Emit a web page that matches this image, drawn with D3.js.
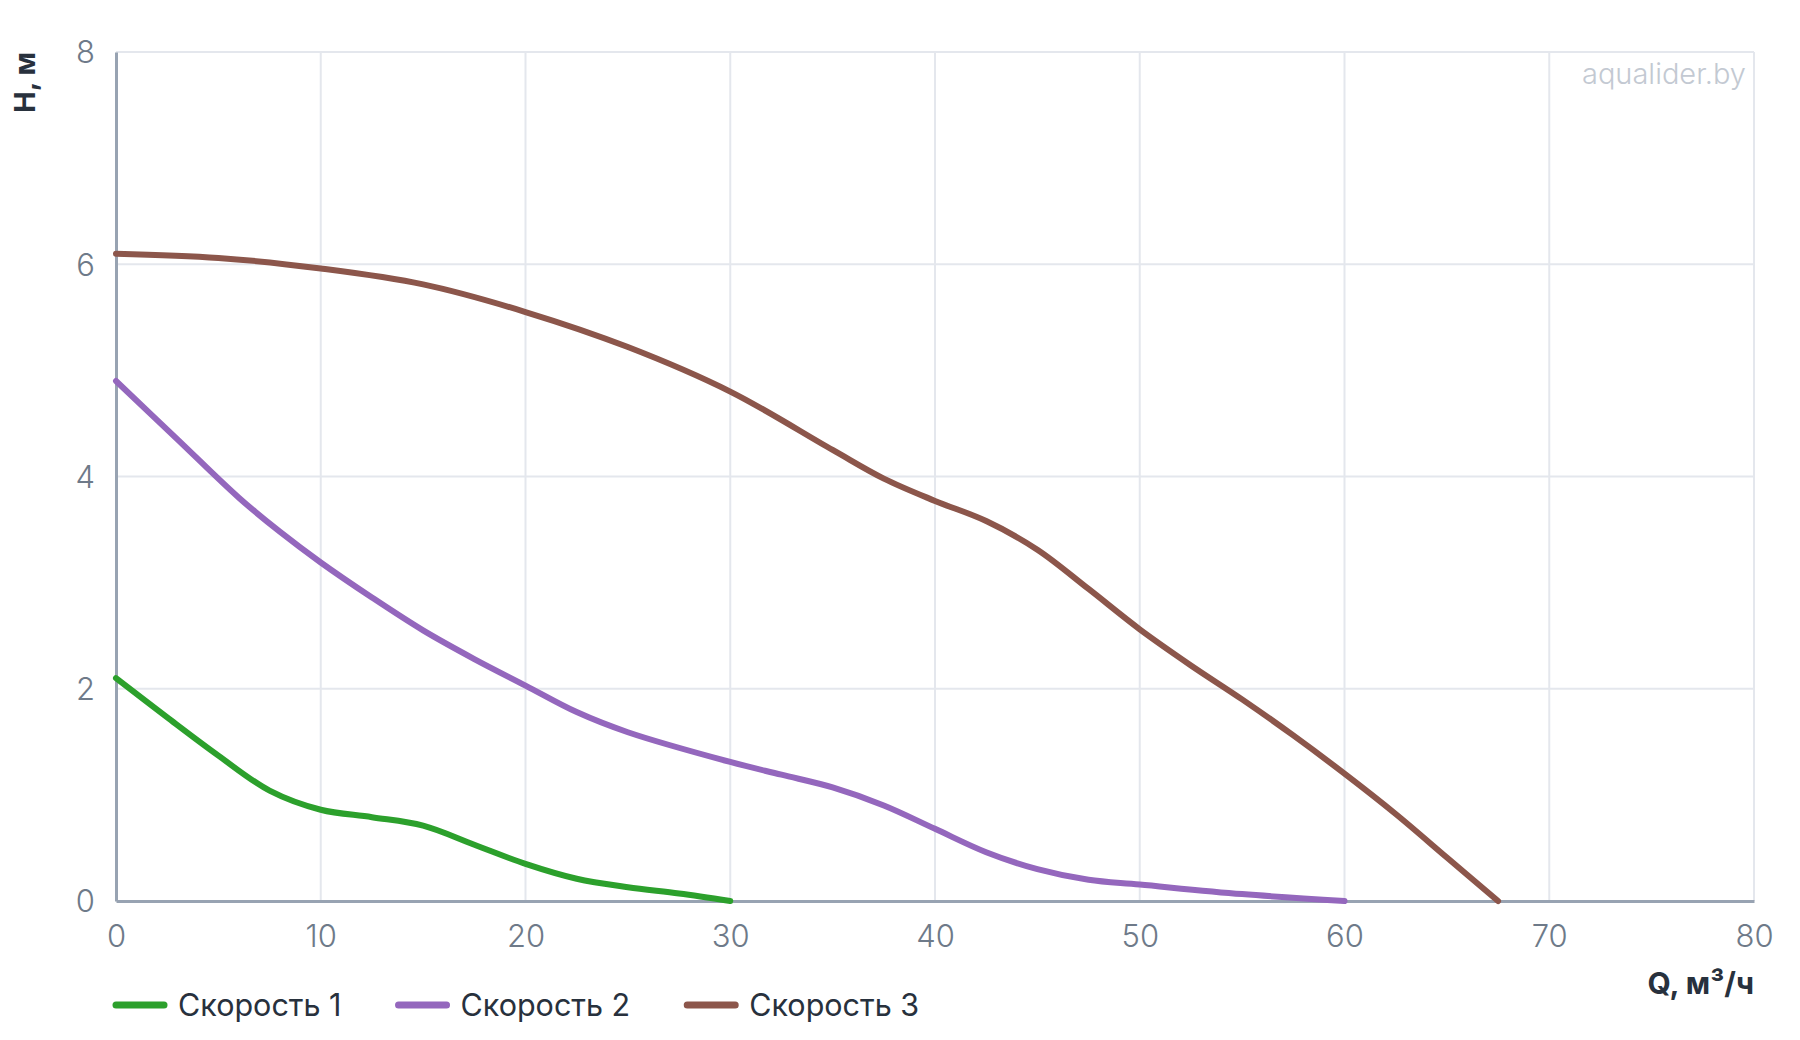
<!DOCTYPE html>
<html>
<head>
<meta charset="utf-8">
<script src="https://cdn.jsdelivr.net/npm/d3@7"></script>
<style>
  body { margin: 0; background: #fff; }
  svg { display: block; font-family: Inter, Roboto, "Noto Sans", sans-serif; }
</style>
</head>
<body>
<svg id="chart" width="1800" height="1040"></svg>
<script>
// flow Q, m3/h and head H, m
var q1 = [0, 2.5, 5, 7.5, 10, 12.5, 15, 17.5, 20, 22.5, 25, 27.5, 30]
var h1 = [2.1, 1.73, 1.37, 1.04, 0.86, 0.79, 0.71, 0.53, 0.35, 0.21, 0.13, 0.07, 0]

var q2 = [0, 3, 6, 8, 10, 12.5, 15, 17.5, 20, 22.5, 25, 30, 32.5, 35, 37.5, 40, 42.5, 45, 47.5, 50, 55, 60]
var h2 = [4.9, 4.35, 3.8, 3.48, 3.19, 2.86, 2.55, 2.28, 2.03, 1.78, 1.59, 1.31, 1.19, 1.07, 0.9, 0.68, 0.46, 0.3, 0.2, 0.155, 0.065, 0]

var q3 = [0, 5, 10, 15, 20, 25, 30, 35, 37.5, 40, 42.5, 45, 47.5, 50, 52.5, 55, 57.5, 60, 62.5, 65, 67.5]
var h3 = [6.1, 6.06, 5.96, 5.81, 5.55, 5.22, 4.8, 4.25, 3.98, 3.77, 3.58, 3.31, 2.94, 2.56, 2.22, 1.9, 1.56, 1.2, 0.82, 0.41, 0]

var seriesNames = ["Скорость 1", "Скорость 2", "Скорость 3"]
var seriesColors = ["#2ca02c", "#9467bd", "#8c564b"]

var xTicks = [0, 10, 20, 30, 40, 50, 60, 70, 80]
var yTicks = [0, 2, 4, 6, 8]

var series = [
    {name: seriesNames[0], color: seriesColors[0], q: q1, h: h1},
    {name: seriesNames[1], color: seriesColors[1], q: q2, h: h2},
    {name: seriesNames[2], color: seriesColors[2], q: q3, h: h3}
]

// plot box (window.top is reserved, so own names)
var plotL = 116, plotR = 1754, plotT = 52, plotB = 901

var x = d3.scaleLinear().domain([0, 80]).range([plotL, plotR])
var y = d3.scaleLinear().domain([0, 8]).range([plotB, plotT])

var svg = d3.select("#chart")

// grid
svg.append("g")
    .selectAll("line.vgrid")
    .data(xTicks.slice(1))
    .join("line")
    .attr("x1", d => x(d)).attr("x2", d => x(d))
    .attr("y1", plotT).attr("y2", plotB)
    .style("stroke", "#e4e7ed")
    .style("stroke-width", "2px")

svg.append("g")
    .selectAll("line.hgrid")
    .data(yTicks.slice(1))
    .join("line")
    .attr("x1", plotL).attr("x2", plotR)
    .attr("y1", d => y(d)).attr("y2", d => y(d))
    .style("stroke", "#e4e7ed")
    .style("stroke-width", "2px")

// axes
var xAxis = svg.append("g")
    .attr("transform", "translate(0," + plotB + ")")
    .call(d3.axisBottom(x).tickValues(xTicks).tickSize(0).tickPadding(18))
var yAxis = svg.append("g")
    .attr("transform", "translate(" + plotL + ",0)")
    .call(d3.axisLeft(y).tickValues(yTicks).tickSize(0).tickPadding(21))

svg.selectAll(".domain")
    .style("stroke", "#98a3b2")
    .style("stroke-width", "3px")
svg.selectAll(".tick text")
    .style("font-size", "31px")
    .style("font-family", "Inter, Roboto, sans-serif")
    .style("font-weight", "300")
    .style("fill", "#6e7a89")
xAxis.selectAll(".tick text").attr("dy", "0.9em")
yAxis.selectAll(".tick text").attr("dy", "0.35em")

// curves
var line = d3.line()
    .x(d => x(d[0]))
    .y(d => y(d[1]))
    .curve(d3.curveCatmullRom.alpha(0.5))

svg.append("g")
    .selectAll("path.curve")
    .data(series)
    .join("path")
    .classed("curve", true)
    .attr("d", d => line(d.q.map((v, i) => [v, d.h[i]])))
    .style("fill", "none")
    .style("stroke", d => d.color)
    .style("stroke-width", "6px")
    .style("stroke-linecap", "round")
    .style("stroke-linejoin", "round")

// axis titles
svg.append("text")
    .attr("transform", "translate(35," + plotT + ") rotate(-90)")
    .attr("text-anchor", "end")
    .style("font-size", "29px")
    .style("font-weight", "bold")
    .style("fill", "#28313d")
    .text("H, м")

svg.append("text")
    .attr("x", plotR)
    .attr("y", 994)
    .attr("text-anchor", "end")
    .style("font-size", "30px")
    .style("font-weight", "bold")
    .style("fill", "#28313d")
    .text("Q, м³/ч")

// watermark
svg.append("text")
    .attr("x", 1746)
    .attr("y", 84)
    .attr("text-anchor", "end")
    .style("font-size", "29px")
    .style("font-weight", "300")
    .style("fill", "#c3c9d2")
    .text("aqualider.by")

// legend
var legend = svg.append("g").attr("transform", "translate(116,1005)")
var lx = 0
series.forEach(function(s) {
    var g = legend.append("g").attr("transform", "translate(" + lx + ",0)")
    g.append("line")
        .attr("x1", 0).attr("x2", 48)
        .attr("y1", 0).attr("y2", 0)
        .style("stroke", s.color)
        .style("stroke-width", "7px")
        .style("stroke-linecap", "round")
    var t = g.append("text")
        .attr("x", 62)
        .attr("y", 11)
        .style("font-size", "30.5px")
        .style("fill", "#28313d")
        .text(s.name)
    lx += 62 + t.node().getComputedTextLength() + 57
})
</script>
</body>
</html>
